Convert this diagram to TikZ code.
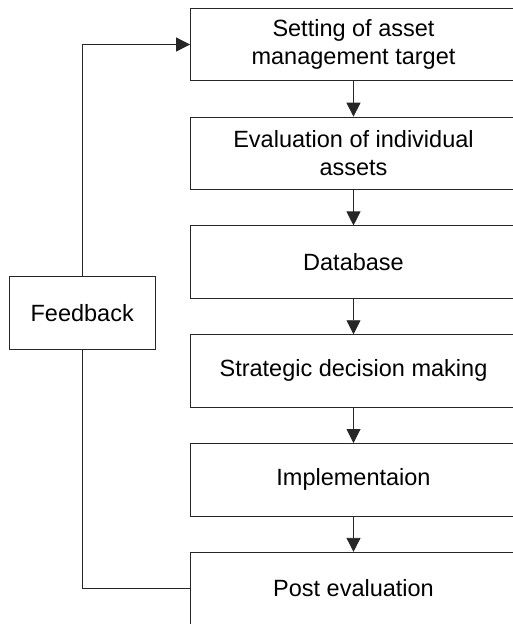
\documentclass[tikz,border=0pt]{standalone}
\usepackage{fontspec}
\setmainfont{Liberation Sans}
\usetikzlibrary{arrows.meta}
\begin{document}
\begin{tikzpicture}[x=1pt,y=-1pt,
  stepbox/.style={draw=black!85,line width=0.8pt,minimum width=326pt,minimum height=72.5pt,inner sep=0pt,align=center,font=\fontsize{23.5}{28.5}\selectfont},
  fbbox/.style={draw=black!85,line width=0.8pt,minimum width=145.7pt,minimum height=73pt,inner sep=0pt,align=center,font=\fontsize{23.5}{28.5}\selectfont},
  conn/.style={draw=black!85,line width=0.8pt},
  arr/.style={conn,-{Triangle[length=14pt,width=14pt]}}]
\useasboundingbox (0,0) rectangle (513,624);
\clip (0,0) rectangle (513,624);
\node[stepbox] (b1) at (353.5,44.5) {Setting of asset\\management target};
\node[stepbox] (b2) at (353.5,153.3) {Evaluation of individual\\assets};
\node[stepbox] (b3) at (353.5,262.1) {Database};
\node[stepbox] (b4) at (353.5,370.9) {Strategic decision making};
\node[stepbox] (b5) at (353.5,479.7) {Implementaion};
\node[stepbox] (b6) at (353.5,588.5) {Post evaluation};
\node[fbbox] (fb) at (82.2,312.7) {Feedback};
\draw[arr] (b1) -- (b2);
\draw[arr] (b2) -- (b3);
\draw[arr] (b3) -- (b4);
\draw[arr] (b4) -- (b5);
\draw[arr] (b5) -- (b6);
\draw[arr] (fb.north) |- (b1.west);
\draw[conn] (fb.south) |- (b6.west);
\end{tikzpicture}
\end{document}
